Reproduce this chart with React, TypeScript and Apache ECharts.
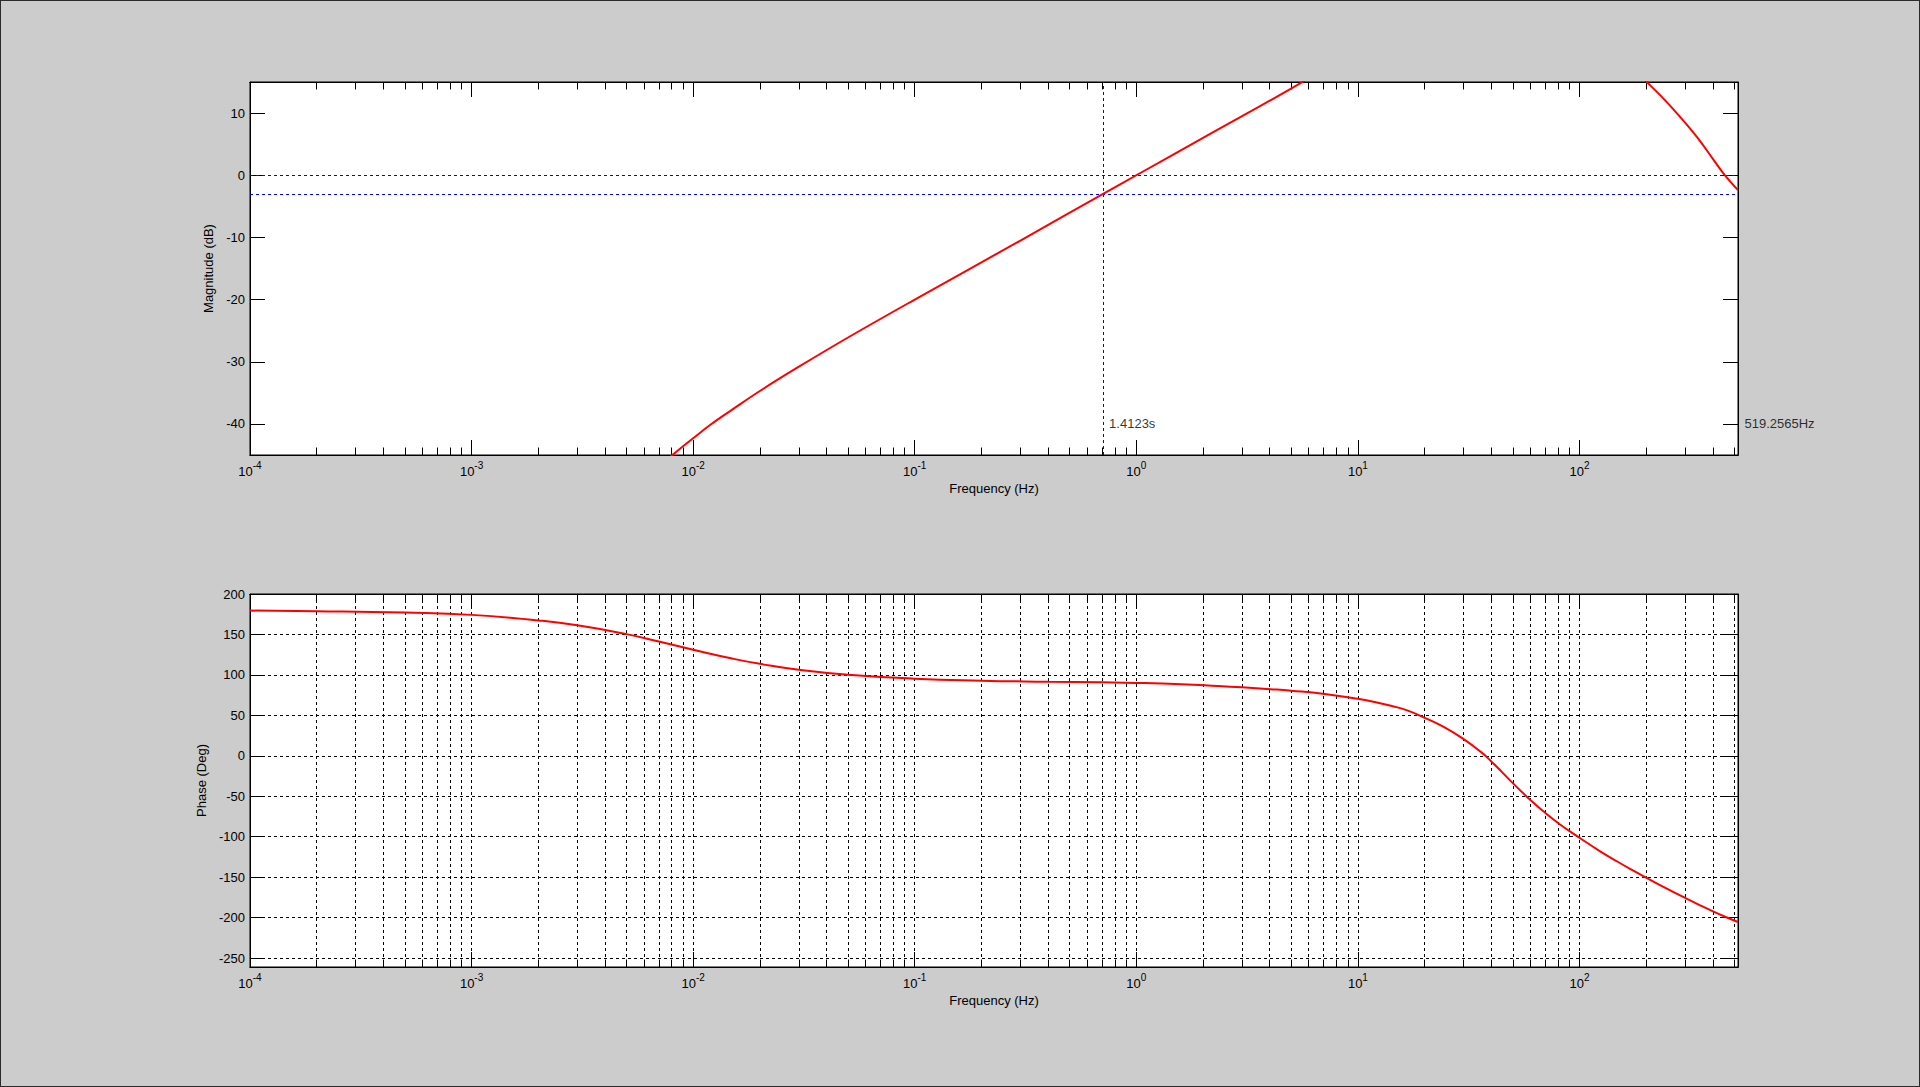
import React, { useEffect, useRef } from "react";
import * as echarts from "echarts";

const FONT = "'Liberation Sans', Arial, Helvetica, sans-serif";

// ---- frequency axis (Hz, logarithmic) ----
const freqMin = 0.0001;
const freqMax = 519.2565;
const decadeExponents = [-4, -3, -2, -1, 0, 1, 2];
const minorMultipliers = [2, 3, 4, 5, 6, 7, 8, 9];

// ---- magnitude axis (dB) ----
const magMin = -45;
const magMax = 15;
const magTicks = [-40, -30, -20, -10, 0, 10];

// ---- phase axis (deg) ----
const phaseMin = -261;
const phaseMax = 200;
const phaseTicks = [-250, -200, -150, -100, -50, 0, 50, 100, 150, 200];

// ---- magnitude response (values above 15 dB are off-chart estimates) ----
const magFreq = [
  0.0075, 0.008, 0.009, 0.01, 0.012, 0.015, 0.02, 0.03, 0.05, 0.1,
  0.3, 0.7081, 1.0, 2.0, 5.56, 10, 20, 40, 60, 100,
  150, 174, 201.1, 232.4, 281.2, 340, 404.3, 450.8, 519.2565,
];
const magDb = [
  -46.0, -45.1, -43.6, -42.3, -40.1, -37.7, -34.7, -30.8, -26.1, -20.0,
  -10.5, -3.0, 0.0, 6.0, 14.9, 20.5, 26.0, 29.0, 28.0, 24.0,
  19.3, 17.15, 15.0, 12.8, 9.6, 6.1, 2.4, 0.1, -2.4,
];

// ---- phase response ----
const phaseFreq = [
  0.0001, 0.0002, 0.0005, 0.001, 0.002, 0.003, 0.005, 0.007, 0.01, 0.015,
  0.02, 0.03, 0.05, 0.1, 0.2, 0.4, 0.7, 1.0, 1.6, 2.34,
  3.0, 4.03, 5.0, 7.08, 10, 12, 14.1, 16.8, 20, 24.5,
  30, 36, 40, 44.5, 49.1, 60.4, 70.6, 81.1, 100, 125,
  148, 175, 202, 249, 301, 352, 405, 460, 519.2565,
];
const phaseDeg = [
  179.5, 178.8, 177.0, 174.2, 167.3, 161.3, 150.4, 141.3, 131.1, 120.2,
  113.7, 106.4, 100.3, 95.4, 92.9, 91.6, 90.8, 90.1, 88.4, 86.2,
  84.6, 82.4, 80.5, 76.4, 70.4, 66.4, 61.9, 55.9, 47.0, 35.4,
  20.6, 4.6, -6.9, -19.5, -31.6, -55.3, -71.3, -84.2, -101.3, -118.6,
  -130.6, -141.9, -151.2, -164.4, -175.9, -185.1, -192.9, -199.5, -205.4,
];

// ---- cursor annotations ----
const refLevelsDb = [0, -3];
const cursorFreq = 0.7081;
const labelLevelDb = -40;
const cursorLabel = "1.4123s";
const edgeLabel = "519.2565Hz";

const majorFreqTicks = decadeExponents.map((e) => Math.pow(10, e));
const allFreqTicks = decadeExponents
  .flatMap((e) => [1, ...minorMultipliers].map((m) => m * Math.pow(10, e)))
  .filter((v) => v <= freqMax);

const BLACK = "#000000";
const gridDash = { color: BLACK, width: 1, type: [3, 3] as number[] };

function freqAxis(gridIndex: number, position: string, ticks: number[], len: number, extra: any = {}) {
  return {
    type: "log",
    logBase: 10,
    gridIndex,
    position,
    min: freqMin,
    max: freqMax,
    axisLine: { show: true, onZero: false, lineStyle: { color: BLACK, width: 1 } },
    axisTick: { show: true, inside: true, length: len, customValues: ticks, lineStyle: { color: BLACK, width: 1 } },
    axisLabel: { show: false },
    splitLine: { show: false },
    ...extra,
  };
}

const freqLabel = {
  show: true,
  customValues: majorFreqTicks,
  margin: 5,
  formatter: (v: number) => `{b|10}{e|${Math.round(Math.log10(v))}}`,
  rich: {
    b: { fontSize: 13, fontFamily: FONT, color: BLACK, lineHeight: 18, verticalAlign: "bottom" },
    e: { fontSize: 10, fontFamily: FONT, color: BLACK, lineHeight: 10, verticalAlign: "top" },
  },
};

const axisNameStyle = { fontSize: 13, fontFamily: FONT, color: BLACK };

function levelAxis(gridIndex: number, position: string, min: number, max: number, ticks: number[], extra: any = {}) {
  return {
    type: "value",
    gridIndex,
    position,
    min,
    max,
    axisLine: { show: true, onZero: false, lineStyle: { color: BLACK, width: 1 } },
    axisTick: { show: true, inside: true, length: 15, customValues: ticks, lineStyle: { color: BLACK, width: 1 } },
    axisLabel: { show: false },
    splitLine: { show: false },
    ...extra,
  };
}

function buildOption(): any {
  const gridBase = {
    left: 250,
    width: 1488,
    height: 373,
    show: true,
    backgroundColor: "#ffffff",
    borderColor: BLACK,
    borderWidth: 1,
    containLabel: false,
    outerBoundsMode: "none",
  };
  const yLabel = (ticks: number[]) => ({
    show: true,
    customValues: ticks,
    margin: 5,
    fontSize: 13,
    fontFamily: FONT,
    color: BLACK,
  });
  const freqName = {
    name: "Frequency (Hz)",
    nameLocation: "middle",
    nameGap: 27,
    nameTextStyle: axisNameStyle,
  };
  return {
    animation: false,
    backgroundColor: "#cccccc",
    textStyle: { fontFamily: FONT },
    grid: [
      { ...gridBase, top: 82 },
      { ...gridBase, top: 594 },
    ],
    xAxis: [
      freqAxis(0, "bottom", allFreqTicks, 7.5),
      freqAxis(0, "bottom", majorFreqTicks, 15, { axisLabel: freqLabel, ...freqName }),
      freqAxis(0, "top", allFreqTicks, 7.5),
      freqAxis(0, "top", majorFreqTicks, 15),
      freqAxis(1, "bottom", allFreqTicks, 7.5, { splitLine: { show: true, lineStyle: gridDash } }),
      freqAxis(1, "bottom", majorFreqTicks, 15, { axisLabel: freqLabel, ...freqName }),
      freqAxis(1, "top", allFreqTicks, 7.5),
      freqAxis(1, "top", majorFreqTicks, 15),
    ],
    yAxis: [
      levelAxis(0, "left", magMin, magMax, magTicks, {
        axisLabel: yLabel(magTicks),
        name: "Magnitude (dB)",
        nameLocation: "middle",
        nameGap: 22,
        nameTextStyle: axisNameStyle,
      }),
      levelAxis(0, "right", magMin, magMax, magTicks),
      levelAxis(1, "left", phaseMin, phaseMax, phaseTicks, {
        axisLabel: yLabel(phaseTicks),
        splitLine: { show: true, lineStyle: gridDash },
        name: "Phase (Deg)",
        nameLocation: "middle",
        nameGap: 29,
        nameTextStyle: axisNameStyle,
      }),
      levelAxis(1, "right", phaseMin, phaseMax, phaseTicks),
    ],
    series: [
      {
        type: "line",
        name: "Magnitude",
        xAxisIndex: 0,
        yAxisIndex: 0,
        data: magFreq.map((f, i) => [f, magDb[i]]),
        symbol: "none",
        showSymbol: false,
        smooth: 0.4,
        clip: true,
        z: 3,
        lineStyle: { color: "#ff0000", width: 2 },
        markLine: {
          silent: true,
          symbol: "none",
          z: 1,
          label: { show: false },
          lineStyle: { color: "#0000ff", width: 1, type: [3, 3] },
          data: [...refLevelsDb.map((v) => ({ yAxis: v })), { xAxis: cursorFreq }],
        },
      },
      {
        type: "scatter",
        name: "Cursor labels",
        xAxisIndex: 0,
        yAxisIndex: 0,
        symbolSize: 1,
        clip: false,
        silent: true,
        itemStyle: { color: "rgba(0,0,0,0)" },
        label: { show: true, position: "right", color: BLACK, fontSize: 13, fontFamily: FONT },
        data: [
          { value: [cursorFreq, labelLevelDb], label: { formatter: cursorLabel, distance: 5.5 } },
          { value: [freqMax, labelLevelDb], label: { formatter: edgeLabel, distance: 6 } },
        ],
      },
      {
        type: "line",
        name: "Phase",
        xAxisIndex: 4,
        yAxisIndex: 2,
        data: phaseFreq.map((f, i) => [f, phaseDeg[i]]),
        symbol: "none",
        showSymbol: false,
        smooth: 0.5,
        clip: true,
        z: 3,
        lineStyle: { color: "#ff0000", width: 2 },
      },
    ],
  };
}

export default function App() {
  const ref = useRef<HTMLDivElement>(null);
  useEffect(() => {
    document.body.style.margin = "0";
    const chart = echarts.init(ref.current as HTMLDivElement, undefined, { renderer: "svg" });
    chart.setOption(buildOption());
    return () => chart.dispose();
  }, []);
  return (
    <div style={{ position: "fixed", left: 0, top: 0, width: 1920, height: 1087, background: "#cccccc" }}>
      <div ref={ref} style={{ position: "absolute", left: 0, top: 0, width: 1920, height: 1087 }} />
      <div
        style={{
          position: "absolute",
          left: 0,
          top: 0,
          width: 1920,
          height: 1087,
          boxSizing: "border-box",
          border: "1px solid #2a2a2a",
          pointerEvents: "none",
        }}
      />
    </div>
  );
}
